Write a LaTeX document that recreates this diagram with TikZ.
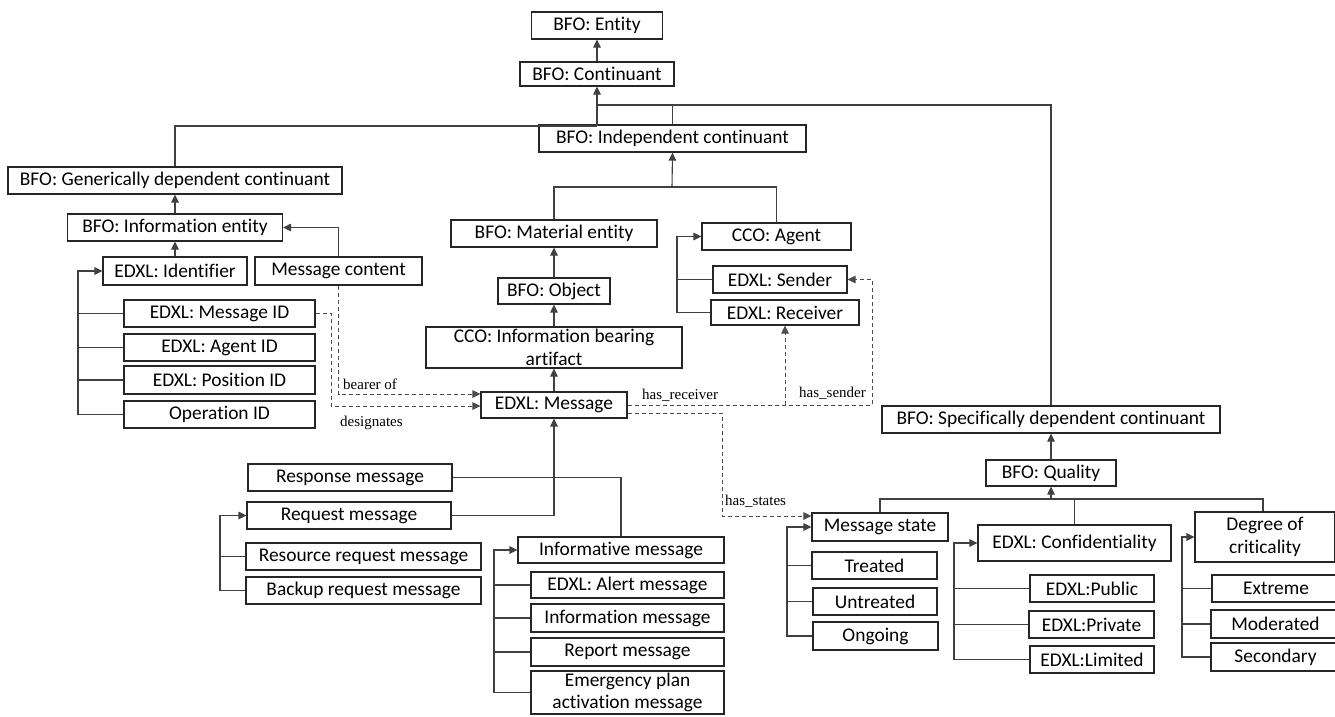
\documentclass[tikz,border=0pt]{standalone}
\usepackage{fontspec}
\setmainfont[Ligatures={NoCommon}]{Carlito}
\newfontfamily\lblfont{Liberation Serif}
\usetikzlibrary{arrows.meta}
\begin{document}
\begin{tikzpicture}[x=1pt,y=-1pt,
  box/.style={draw=black!85, line width=1.1pt, rectangle, inner sep=0pt, align=center,
    font=\fontsize{19.4}{22.7}\selectfont},
  link/.style={draw=black!75, line width=1.1pt},
  arr/.style={link, -{Triangle[length=8pt,width=7.5pt]}},
  dasharr/.style={draw=black!70, line width=1pt, dash pattern=on 4pt off 3pt,
    -{Triangle[length=8pt,width=7.5pt]}},
  lbl/.style={inner sep=0pt, font=\lblfont\fontsize{15}{17}\selectfont}]
\useasboundingbox (0,0) rectangle (1335,716);
\clip (0,0) rectangle (1335,716);

% ---- upper BFO hierarchy
\node[box, minimum width=131, minimum height=27] (entity) at (597,25.5) {BFO: Entity};
\node[box, minimum width=154, minimum height=24] (cont) at (597,74) {BFO: Continuant};
\node[box, minimum width=267, minimum height=27] (indep) at (672.5,138.5) {BFO: Independent continuant};
\node[box, minimum width=334, minimum height=27] (gdc) at (175,180.5) {BFO: Generically dependent continuant};
\node[box, minimum width=338, minimum height=27] (sdc) at (1051,419.5) {BFO: Specifically dependent continuant};

% ---- information entities
\node[box, minimum width=215, minimum height=27] (ie) at (175,227.5) {BFO: Information entity};
\node[box, minimum width=144, minimum height=28] (ident) at (175,271) {EDXL: Identifier};
\node[box, minimum width=167, minimum height=28] (mcont) at (338.5,271) {Message content};
\node[box, minimum width=191, minimum height=27] (msgid) at (219.5,313.5) {EDXL: Message ID};
\node[box, minimum width=191, minimum height=27] (agid) at (219.5,347.5) {EDXL: Agent ID};
\node[box, minimum width=191, minimum height=28] (posid) at (219.5,380) {EDXL: Position ID};
\node[box, minimum width=191, minimum height=27] (opid) at (219.5,414.5) {Operation ID};

% ---- material entities and agents
\node[box, minimum width=206, minimum height=27] (matent) at (554,233.5) {BFO: Material entity};
\node[box, minimum width=149, minimum height=27] (agent) at (776.5,236.5) {CCO: Agent};
\node[box, minimum width=112, minimum height=26] (obj) at (554,291) {BFO: Object};
\node[box, minimum width=256, minimum height=41] (iba) at (554,347.5) {CCO: Information bearing\\artifact};
\node[box, minimum width=146, minimum height=26] (msg) at (554,405) {EDXL: Message};
\node[box, minimum width=134, minimum height=27] (sender) at (780,279.5) {EDXL: Sender};
\node[box, minimum width=148, minimum height=25] (receiver) at (785,312.5) {EDXL: Receiver};

% ---- message kinds
\node[box, minimum width=204, minimum height=27] (resp) at (350,477.5) {Response message};
\node[box, minimum width=204, minimum height=27] (req) at (349,515.5) {Request message};
\node[box, minimum width=235, minimum height=27] (resreq) at (363.5,556.5) {Resource request message};
\node[box, minimum width=235, minimum height=27] (backup) at (363.5,590.5) {Backup request message};
\node[box, minimum width=206, minimum height=26] (info) at (621,550) {Informative message};
\node[box, minimum width=193, minimum height=26] (alert) at (627.5,585) {EDXL: Alert message};
\node[box, minimum width=193, minimum height=28] (infom) at (627.5,618) {Information message};
\node[box, minimum width=193, minimum height=28] (report) at (627.5,652) {Report message};
\node[box, minimum width=193, minimum height=43] (emerg) at (627.5,692.5) {Emergency plan\\activation message};

% ---- qualities
\node[box, minimum width=130, minimum height=26] (quality) at (1051,473) {BFO: Quality};
\node[box, minimum width=136, minimum height=28] (mstate) at (880,527) {Message state};
\node[box, minimum width=125, minimum height=27] (treated) at (874.5,565.5) {Treated};
\node[box, minimum width=124, minimum height=27] (untreated) at (875,601.5) {Untreated};
\node[box, minimum width=125, minimum height=28] (ongoing) at (875.5,636) {Ongoing};
\node[box, minimum width=193, minimum height=36] (conf) at (1074.5,543) {EDXL: Confidentiality};
\node[box, minimum width=124, minimum height=27] (public) at (1092,588.5) {EDXL:Public};
\node[box, minimum width=125, minimum height=27] (private) at (1091.5,624.5) {EDXL:Private};
\node[box, minimum width=124, minimum height=27] (limited) at (1092,659.5) {EDXL:Limited};
\node[box, minimum width=140, minimum height=50] (degree) at (1265,537) {Degree of\\criticality};
\node[box, minimum width=128, minimum height=27] (extreme) at (1276,588.5) {Extreme};
\node[box, minimum width=129, minimum height=28] (moderated) at (1275.5,624) {Moderated};
\node[box, minimum width=129, minimum height=28] (secondary) at (1275.5,657) {Secondary};

% ---- junctions and bracket columns
\coordinate (j1) at (597,105);
\coordinate (j2) at (597,126);
\coordinate (j3) at (672,187);
\coordinate (j4) at (1051,499);
\coordinate (brA) at (78,0);
\coordinate (brB) at (677,0);
\coordinate (brC) at (220,0);
\coordinate (brD) at (331,0);
\coordinate (brE) at (872,0);
\coordinate (brF) at (722,0);
\coordinate (brG) at (494,0);
\coordinate (brH) at (787,0);
\coordinate (brI) at (954,0);
\coordinate (brJ) at (1182,0);

% ---- is-a links
\draw[arr] (cont.north) -- (entity.south);
\draw[link] (sdc.north) |- (j1);
\draw[link] (indep.north) |- (j1);
\draw[link] (gdc.north) |- (j2);
\draw[arr] (j2) -- (cont.south);
\draw[arr] (ie.north) -- (gdc.south);
\draw[arr] (ident.north) -- (ie.south);
\draw[arr] (mcont.north) |- (ie.east);
\draw[arr] (opid.west) -- (opid.west -| brA) |- (ident.west);
\draw[link] (msgid.west) -- (msgid.west -| brA);
\draw[link] (agid.west) -- (agid.west -| brA);
\draw[link] (posid.west) -- (posid.west -| brA);

\draw[link] (matent.north) |- (j3);
\draw[link] (agent.north) |- (j3);
\draw[arr] (j3) -- (indep.south);
\draw[arr] (obj.north) -- (matent.south);
\draw[arr] (iba.north) -- (obj.south);
\draw[arr] (msg.north) -- (iba.south);
\draw[arr] (receiver.west) -- (receiver.west -| brB) |- (agent.west);
\draw[link] (sender.west) -- (sender.west -| brB);

\draw[arr] (req.east) -| (msg.south);
\draw[link] (resp.east) -| (info.north);
\draw[arr] (backup.west) -- (backup.west -| brC) |- (req.west);
\draw[link] (resreq.west) -- (resreq.west -| brC);
\draw[arr] (emerg.west) -- (emerg.west -| brG) |- (info.west);
\draw[link] (alert.west) -- (alert.west -| brG);
\draw[link] (infom.west) -- (infom.west -| brG);
\draw[link] (report.west) -- (report.west -| brG);

\draw[arr] (quality.north) -- (sdc.south);
\draw[link] (mstate.north) |- (j4);
\draw[link] (conf.north) |- (j4);
\draw[link] ([xshift=-2pt]degree.north) |- (j4);
\draw[arr] (j4) -- (quality.south);
\draw[arr] (ongoing.west) -- (ongoing.west -| brH) |- (mstate.west);
\draw[link] (treated.west) -- (treated.west -| brH);
\draw[link] (untreated.west) -- (untreated.west -| brH);
\draw[arr] (limited.west) -- (limited.west -| brI) |- (conf.west);
\draw[link] (public.west) -- (public.west -| brI);
\draw[link] (private.west) -- (private.west -| brI);
\draw[arr] (secondary.west) -- (secondary.west -| brJ) |- (degree.west);
\draw[link] (extreme.west) -- (extreme.west -| brJ);
\draw[link] (moderated.west) -- (moderated.west -| brJ);

% ---- object properties
\draw[dasharr] (mcont.south) |- ([yshift=11pt]msg.west);
\draw[dasharr] (msgid.east) -- (msgid.east -| brD) |- ([yshift=-1pt]msg.west);
\draw[dasharr] (msg.east) -- (msg.east -| brE) |- (sender.east);
\draw[dasharr] (msg.east -| receiver.south) -- (receiver.south);
\draw[dasharr] ([yshift=-8pt]msg.east) -- ([yshift=-8pt]msg.east -| brF) |- ([yshift=11pt]mstate.west);

\node[lbl, anchor=base west] (lbearer) at (343,389) {bearer of};
\node[lbl, anchor=base west] (ldesig) at (340,426) {designates};
\node[lbl, anchor=base west] (lrecv) at (642,399) {has\_receiver};
\node[lbl, anchor=base west] (lsend) at (799,397) {has\_sender};
\node[lbl, anchor=base west] (lstates) at (725,505) {has\_states};
\end{tikzpicture}
\end{document}
